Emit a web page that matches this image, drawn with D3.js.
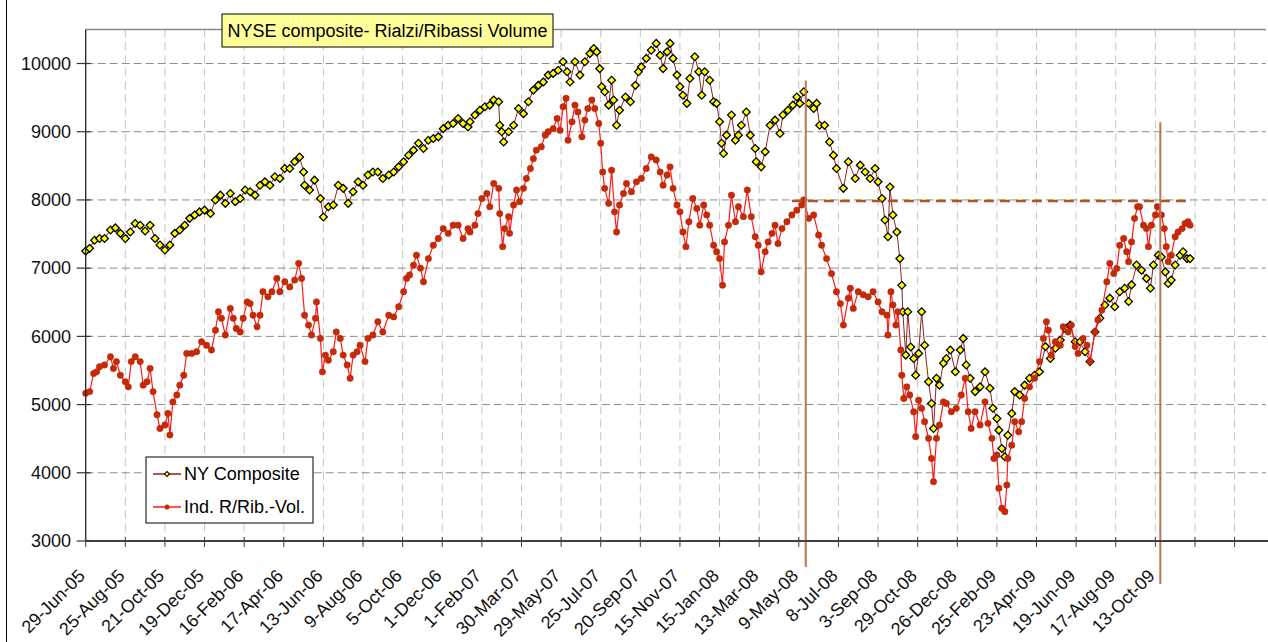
<!DOCTYPE html>
<html><head><meta charset="utf-8">
<script src="https://cdn.jsdelivr.net/npm/d3@7"></script>
<style>body{margin:0;background:#fff}svg{display:block;font-family:Arial,"Liberation Sans",sans-serif}</style>
</head><body><svg id="c" width="1268" height="642"></svg>
<script>
// ---- data (trading-day index from 29-Jun-05, value) ----
const tickLabels = ["29-Jun-05","25-Aug-05","21-Oct-05","19-Dec-05","16-Feb-06","17-Apr-06","13-Jun-06","9-Aug-06","5-Oct-06","1-Dec-06","1-Feb-07","30-Mar-07","29-May-07","25-Jul-07","20-Sep-07","15-Nov-07","15-Jan-08","13-Mar-08","9-May-08","8-Jul-08","3-Sep-08","29-Oct-08","26-Dec-08","25-Feb-09","23-Apr-09","19-Jun-09","17-Aug-09","13-Oct-09"];
const yTicks = [3000,4000,5000,6000,7000,8000,9000,10000];
const seriesNames = ["NY Composite","Ind. R/Rib.-Vol."];
const titleText = "NYSE composite- Rialzi/Ribassi Volume";

const nyComposite = [[0,7250],[4,7290],[9,7410],[14,7435],[19,7435],[25,7560],[30,7590],[35,7510],[40,7435],[45,7530],[50,7655],[55,7630],[60,7545],[65,7630],[70,7435],[75,7340],[80,7265],[85,7340],[90,7510],[95,7560],[100,7630],[105,7730],[110,7780],[115,7825],[120,7850],[126,7800],[131,8000],[136,8070],[141,7950],[146,8095],[151,7975],[156,8020],[161,8145],[166,8120],[171,8070],[176,8215],[181,8265],[186,8215],[191,8340],[196,8315],
[201,8460],[206,8460],[211,8560],[216,8630],[220,8410],[221,8215],[226,8145],[231,8290],[237,8020],[240,7750],[245,7900],[250,7925],[255,8215],[260,8170],[265,7950],[270,8120],[275,8265],[280,8215],[285,8365],[290,8410],[295,8410],[300,8315],[306,8365],[311,8410],[316,8485],[321,8560],[326,8655],[331,8730],[336,8830],[341,8755],[346,8875],[351,8900],[356,8925],[361,9045],[366,9095],[371,9120],[376,9195],[381,9120],[386,9070],
[388,9145],[393,9245],[398,9315],[403,9365],[408,9390],[412,9465],[417,9440],[418,9095],[420,9000],[422,8850],[427,9000],[432,9095],[437,9340],[442,9265],[447,9440],[452,9610],[457,9680],[462,9730],[467,9830],[472,9855],[477,9900],[482,10025],[486,9880],[489,9730],[494,10025],[499,9830],[504,10025],[509,10145],[513,10220],[516,10170],[519,9925],[521,9660],[524,9585],[528,9390],[531,9755],[533,9465],[536,9095],[539,9315],[545,9510],[550,9440],[555,9680],[558,9880],[561,9950],[566,10075],[571,10195],[576,10295],
[580,10120],[583,9925],[587,10170],[590,10295],[593,10075],[597,9830],[600,9660],[603,9535],[607,9415],[610,9780],[615,10100],[619,9880],[622,9535],[625,9880],[630,9755],[634,9440],[637,9415],[640,9145],[642,8830],[644,8680],[647,8950],[652,9245],[656,8875],[659,8950],[662,9095],[667,9290],[671,8950],[676,8755],[677,8560],[682,8485],[686,8705],[691,9095],[696,9170],[701,8975],[704,9245],[709,9315],[714,9390],[718,9510],[721,9415],[725,9585],[730,9415],[735,9340],[738,9415],[741,9095],[746,9095],[751,8850],[755,8655],[758,8460],[765,8170],[770,8560],
[777,8315],[782,8510],[787,8410],[792,8315],[797,8460],[800,8265],[804,8020],[807,7705],[810,7460],[812,8190],[815,7780],[819,7530],[822,7140],[824,6750],[825,6360],[828,5725],[830,6360],[833,5845],[836,5675],[838,5430],[841,5750],[844,6360],[847,5870],[851,5335],[854,5015],[856,4650],[859,5385],[862,5285],[866,5605],[869,5675],[873,5800],[878,5480],[883,5800],[886,5970],[889,5580],[893,5385],[898,5190],[903,5260],[908,5480],[913,5240],[916,4945],[920,4795],[922,4625],[925,4355],[928,4235],[931,4550],[935,4870],[938,5190],[943,5140],[948,5285],[953,5385],[958,5430],[963,5480],
[969,5850],[974,5675],[979,5825],[984,5945],[989,6115],[994,6165],[999,5920],[1004,5920],[1009,5775],[1014,5630],[1019,6065],[1024,6265],[1029,6460],[1034,6560],[1039,6435],[1044,6655],[1049,6705],[1053,6510],[1056,6755],[1061,7045],[1066,6970],[1071,6850],[1075,6705],[1078,7045],[1083,7190],[1086,7165],[1090,6945],[1093,6775],[1096,6825],[1100,7045],[1105,7190],[1108,7240],[1112,7140],[1115,7140]];

const indRibVol = [[0,5165],[4,5190],[8,5455],[11,5480],[14,5555],[19,5580],[25,5700],[28,5530],[31,5630],[35,5430],[40,5335],[43,5260],[46,5630],[50,5700],[55,5630],[58,5285],[62,5335],[65,5530],[68,5190],[72,4850],[75,4650],[80,4700],[83,4870],[85,4555],[88,5040],[92,5140],[95,5285],[99,5430],[102,5750],[107,5750],[112,5775],[117,5920],[122,5870],[127,5800],[131,6090],[134,6360],[137,6265],[141,6020],[146,6410],[149,6265],[152,6115],[156,6065],[159,6265],[163,6505],[166,6480],[169,6310],[173,6140],[176,6310],[179,6655],[184,6580],[188,6655],[193,6850],[196,6655],
[201,6800],[206,6725],[211,6825],[215,7070],[218,6850],[221,6310],[225,6165],[228,6020],[232,6265],[233,6505],[237,5970],[239,5480],[242,5725],[245,5650],[250,5775],[253,6065],[257,5970],[260,5725],[264,5580],[267,5385],[270,5725],[274,5775],[277,5870],[282,5630],[285,5970],[290,6020],[295,6215],[300,6065],[306,6310],[311,6285],[316,6435],[321,6655],[324,6850],[327,6900],[331,7045],[334,7190],[338,7000],[341,6800],[346,7140],[351,7335],[356,7435],[361,7580],[366,7510],[371,7630],[376,7630],[381,7435],[386,7580],
[388,7530],[393,7630],[396,7800],[400,8020],[405,8095],[408,7900],[412,8240],[417,8170],[418,7800],[421,7315],[423,7580],[427,7755],[428,7510],[432,7925],[435,8145],[438,7975],[442,8170],[445,8315],[449,8460],[452,8605],[455,8730],[460,8780],[464,8950],[467,9000],[472,9045],[476,9195],[479,9020],[482,9365],[485,9490],[487,8875],[491,9145],[494,9390],[497,9290],[501,8925],[504,9170],[507,9340],[511,9465],[514,9340],[518,9120],[520,8830],[522,8410],[524,8170],[528,7950],[531,8435],[534,7825],[536,7530],[539,7925],[543,8095],[546,8240],[551,8120],[556,8265],[561,8315],[566,8460],[571,8630],[576,8585],
[580,8410],[583,8215],[587,8365],[590,8485],[593,8170],[597,7925],[600,7825],[603,7530],[606,7315],[609,7680],[613,8020],[617,7875],[620,7630],[624,7925],[627,7780],[630,7630],[634,7335],[637,7240],[640,7140],[643,6750],[645,7385],[649,7630],[652,8070],[656,7680],[659,7900],[664,7755],[668,8145],[672,7755],[676,7460],[679,7335],[682,6945],[686,7240],[689,7385],[693,7510],[696,7630],[699,7360],[703,7580],[708,7680],[713,7780],[718,7850],[723,7925],[725,8000],[730,7730],[735,7780],[740,7485],[743,7335],[748,7140],[753,6920],[758,6655],[762,6480],[765,6165],[770,6560],
[772,6705],[775,6410],[780,6655],[785,6610],[790,6580],[795,6655],[800,6505],[804,6360],[809,6310],[810,6020],[813,6655],[815,6460],[818,6165],[820,6360],[823,5800],[824,5430],[826,5090],[829,5260],[832,5140],[836,4895],[838,4530],[841,5065],[844,4945],[847,4750],[851,4505],[854,4210],[856,3870],[859,4505],[862,4700],[866,5040],[869,5015],[874,4895],[879,4945],[884,5140],[888,5385],[891,4895],[894,4650],[898,4895],[903,4700],[908,5040],[911,4725],[915,4505],[917,4210],[920,4260],[922,3775],[925,3480],[928,3430],[930,3820],[931,4210],[935,4405],[938,4750],[942,4600],[945,4750],[948,5090],[953,5260],[958,5385],[963,5630],
[967,5970],[970,6215],[972,6090],[975,5725],[979,5920],[984,5870],[987,6140],[992,6065],[995,6165],[999,5850],[1002,5750],[1007,5970],[1011,5870],[1014,5630],[1019,6065],[1022,6240],[1026,6385],[1031,6800],[1034,7070],[1038,6920],[1041,6995],[1044,7335],[1048,7435],[1051,7240],[1053,7095],[1056,7385],[1059,7730],[1062,7900],[1064,7900],[1068,7630],[1071,7580],[1073,7315],[1076,7630],[1080,7780],[1082,7900],[1086,7780],[1089,7580],[1091,7315],[1093,7095],[1096,7190],[1100,7460],[1103,7530],[1107,7580],[1110,7655],[1113,7680],[1115,7630]];

// annotation lines (day index, value)
const vMarkers = [{day:727, top:9750, bottom:2620},{day:1085, top:9140, bottom:2370}];
const hLevel = {from:713, to:1117, value:7985};

(function(){
const svg = d3.select("#c");
const x = d3.scaleLinear().domain([0,1160]).range([85.7,1234.6]);
const y = d3.scaleLinear().domain([3000,10500]).range([541,29.4]);
const pL = x(0), pR = 1266, pT = y(10500), pB = y(3000);
const tickDays = d3.range(0, 1161, 40);

svg.append("rect").attr("width",1268).attr("height",642).attr("fill","#fff");
svg.append("line").attr("x1",6.5).attr("x2",6.5).attr("y1",0).attr("y2",642).attr("stroke","#000").attr("stroke-width",1);

svg.append("g").selectAll("line").data(tickDays.slice(1)).join("line")
  .attr("x1",d=>x(d)).attr("x2",d=>x(d)).attr("y1",pT).attr("y2",pB)
  .attr("stroke","#c4c4c4").attr("stroke-width",1).attr("stroke-dasharray","8,5");
svg.append("g").selectAll("line").data(yTicks.slice(1)).join("line")
  .attr("x1",pL).attr("x2",pR).attr("y1",d=>y(d)).attr("y2",d=>y(d))
  .attr("stroke","#8e8e8e").attr("stroke-width",1).attr("stroke-dasharray","8,4");
svg.append("line").attr("x1",pL).attr("x2",pR).attr("y1",pT).attr("y2",pT)
  .attr("stroke","#8a8a8a").attr("stroke-width",1.5);

const lineGen = d3.line().x(d=>x(d[0])).y(d=>y(d[1]));
svg.append("path").datum(nyComposite).attr("d",lineGen).attr("fill","none")
  .attr("stroke","#8b2323").attr("stroke-width",1);
const diamond = d3.symbol().type(d3.symbolSquare).size(30);
svg.append("g").selectAll("path").data(nyComposite).join("path")
  .attr("transform",d=>`translate(${x(d[0])},${y(d[1])}) rotate(45)`).attr("d",diamond)
  .attr("fill","#ffff00").attr("stroke","#000").attr("stroke-width",1.3);

svg.append("path").datum(indRibVol).attr("d",lineGen).attr("fill","none")
  .attr("stroke","#ff1a1a").attr("stroke-width",1.2);
svg.append("g").selectAll("circle").data(indRibVol).join("circle")
  .attr("cx",d=>x(d[0])).attr("cy",d=>y(d[1])).attr("r",3.2)
  .attr("fill","#c62a0a").attr("stroke","#b52400").attr("stroke-width",0.5);

svg.append("line").attr("x1",x(hLevel.from)).attr("x2",x(hLevel.to))
  .attr("y1",y(hLevel.value)).attr("y2",y(hLevel.value))
  .attr("stroke","#b4541c").attr("stroke-width",2.5).attr("stroke-dasharray","10,6");
svg.append("g").selectAll("line").data(vMarkers).join("line")
  .attr("x1",d=>x(d.day)).attr("x2",d=>x(d.day)).attr("y1",d=>y(d.top)).attr("y2",d=>y(d.bottom))
  .attr("stroke","#b97650").attr("stroke-width",2);

svg.append("line").attr("x1",pL).attr("x2",pL).attr("y1",pT).attr("y2",pB)
  .attr("stroke","#222").attr("stroke-width",1.3);
svg.append("line").attr("x1",pL).attr("x2",1268).attr("y1",pB).attr("y2",pB)
  .attr("stroke","#404040").attr("stroke-width",2);
svg.append("g").selectAll("line").data(yTicks).join("line")
  .attr("x1",pL-9).attr("x2",pL+5).attr("y1",d=>y(d)).attr("y2",d=>y(d))
  .attr("stroke","#333").attr("stroke-width",1.2);
svg.append("g").selectAll("text").data(yTicks).join("text")
  .attr("x",71).attr("y",d=>y(d)).attr("dy","0.35em").attr("text-anchor","end")
  .attr("font-size",18).attr("fill","#111").text(d=>d);
svg.append("g").selectAll("line").data(tickDays.concat([1200])).join("line")
  .attr("x1",d=>x(d)).attr("x2",d=>x(d)).attr("y1",pB-4).attr("y2",pB+6)
  .attr("stroke","#404040").attr("stroke-width",1);
svg.append("g").selectAll("text").data(tickLabels).join("text")
  .attr("transform",(d,i)=>`translate(${x(i*40)+0.5},${pB+36}) rotate(-45)`)
  .attr("text-anchor","end").attr("font-size",18).attr("fill","#111").text(d=>d);

const tg = svg.append("g");
tg.append("rect").attr("x",222).attr("y",14).attr("width",331).attr("height",33)
  .attr("fill","#ffff99").attr("stroke","#000").attr("stroke-width",1);
tg.append("text").attr("x",387.5).attr("y",37).attr("text-anchor","middle")
  .attr("font-size",18).attr("fill","#000").text(titleText);

const lg = svg.append("g");
lg.append("rect").attr("x",146).attr("y",457).attr("width",167).attr("height",66)
  .attr("fill","#fff").attr("stroke","#000").attr("stroke-width",1);
const ly = [474, 507];
lg.append("line").attr("x1",153).attr("x2",181).attr("y1",ly[0]).attr("y2",ly[0]).attr("stroke","#8b2323").attr("stroke-width",1.5);
lg.append("path").attr("transform",`translate(167,${ly[0]}) rotate(45)`).attr("d",d3.symbol().type(d3.symbolSquare).size(12)).attr("fill","#ffff00").attr("stroke","#000");
lg.append("line").attr("x1",153).attr("x2",181).attr("y1",ly[1]).attr("y2",ly[1]).attr("stroke","#ff1a1a").attr("stroke-width",1.5);
lg.append("circle").attr("cx",167).attr("cy",ly[1]).attr("r",2.5).attr("fill","#c62a0a");
lg.selectAll("text").data(seriesNames).join("text")
  .attr("x",184).attr("y",(d,i)=>ly[i]).attr("dy","0.35em").attr("font-size",18).attr("fill","#000").text(d=>d);
})();
</script></body></html>
